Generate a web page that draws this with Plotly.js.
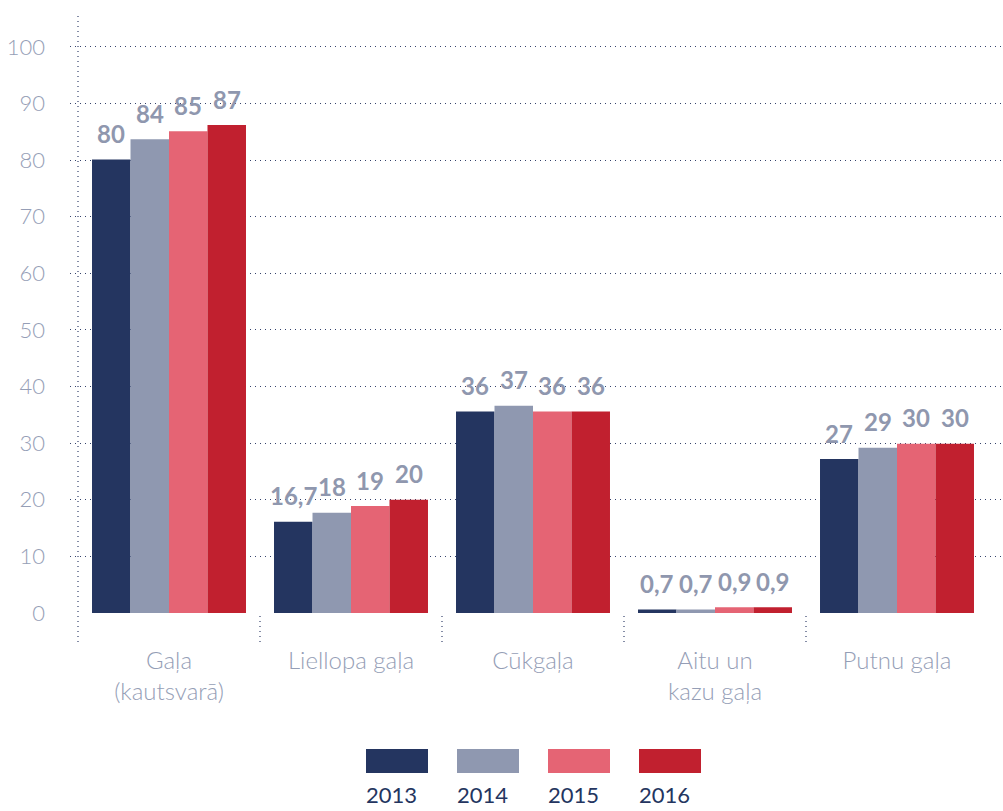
<!DOCTYPE html>
<html>
<head>
<meta charset="utf-8">
<script src="https://cdn.plot.ly/plotly-3.0.1.min.js"></script>
<style>
  html, body { margin: 0; padding: 0; background: #fff; }
  #chart { width: 1003px; height: 811px; }
</style>
</head>
<body>
<div id="chart"></div>
<script>
// dati
var categories = ["Gaļa<br>(kautsvarā)", "Liellopa gaļa", "Cūkgaļa", "Aitu un<br>kazu gaļa", "Putnu gaļa"];
var years = ["2013", "2014", "2015", "2016"];
var v2013 = [80.1, 16.1, 35.6, 0.6, 27.2];
var v2014 = [83.7, 17.7, 36.6, 0.6, 29.2];
var v2015 = [85.1, 18.9, 35.6, 1.0, 29.9];
var v2016 = [86.2, 20.0, 35.6, 1.0, 29.9];
var t2013 = ["80", "16,7", "36", "0,7", "27"];
var t2014 = ["84", "18", "37", "0,7", "29"];
var t2015 = ["85", "19", "36", "0,9", "30"];
var t2016 = ["87", "20", "36", "0,9", "30"];
var colors = ["#243560", "#8f98b0", "#e56474", "#c1202f"];

(function () {
  var W = 1003, H = 811;
  var ML = 70, MR = 0, MT = 13, MB = 198;
  var PW = W - ML - MR, PH = H - MT - MB;
  var BARGAP = 0.154;
  var FONT = "Lato, 'Open Sans', sans-serif";
  var TICK = "#959eb6", LABEL = "#8f97ae", GRID = "#34426c";

  var values = [v2013, v2014, v2015, v2016];
  var texts = [t2013, t2014, t2015, t2016];
  var idx = categories.map(function (c, i) { return i; });

  function pxX(px) { return (px - ML) / PW; }
  function pxY(py) { return (MT + PH - py) / PH; }

  var traces = years.map(function (y, j) {
    return {
      type: "bar", name: y, x: idx, y: values[j],
      marker: { color: colors[j], line: { width: 0 } },
      hoverinfo: "skip", showlegend: false
    };
  });

  var annotations = [], shapes = [];
  var bw = (1 - BARGAP) / years.length;
  years.forEach(function (y, j) {
    idx.forEach(function (i) {
      annotations.push({
        x: i + (j - (years.length - 1) / 2) * bw, y: values[j][i], xref: "x", yref: "y",
        text: texts[j][i], showarrow: false, yanchor: "middle", yshift: 26,
        font: { family: FONT, size: 24, color: LABEL, weight: 700 }
      });
    });
  });

  // kategoriju atdalītāji (punktēti)
  for (var k = 0; k < categories.length; k++) {
    shapes.push({
      type: "line", xref: "x", yref: "paper", x0: k - 0.5, x1: k - 0.5,
      y0: pxY(642), y1: k === 0 ? 1 : 0,
      line: { color: GRID, width: 1.2, dash: "1px,4px" }
    });
  }

  // leģenda: kvadrāts virs gada
  years.forEach(function (y, j) {
    var x0 = 366 + j * 91;
    shapes.push({
      type: "rect", xref: "paper", yref: "paper",
      x0: pxX(x0), x1: pxX(x0 + 62), y0: pxY(773), y1: pxY(749),
      fillcolor: colors[j], line: { width: 0 }
    });
    annotations.push({
      xref: "paper", yref: "paper", x: pxX(x0 - 2), y: pxY(810),
      xanchor: "left", yanchor: "bottom", showarrow: false, text: y,
      font: { family: FONT, size: 22, color: "#243560" }
    });
  });

  var layout = {
    width: W, height: H,
    margin: { l: ML, r: MR, t: MT, b: MB },
    paper_bgcolor: "#fff", plot_bgcolor: "#fff",
    barmode: "group", bargap: BARGAP, bargroupgap: 0,
    showlegend: false,
    xaxis: {
      type: "linear", range: [-0.5 - 8 / 182, 4.5 + 15 / 182],
      tickvals: idx, ticktext: categories, showgrid: false, zeroline: false,
      showline: false, ticks: "", ticklabelstandoff: 31,
      tickfont: { family: FONT, size: 24, color: TICK, weight: 300 }
    },
    yaxis: {
      range: [0, 106], tickvals: [0, 10, 20, 30, 40, 50, 60, 70, 80, 90, 100],
      showgrid: true, gridcolor: GRID, gridwidth: 1, griddash: "1px,4px",
      zeroline: false, showline: false, ticks: "", ticklabelstandoff: 24,
      tickfont: { family: FONT, size: 22, color: TICK, weight: 300 }
    },
    shapes: shapes,
    annotations: annotations
  };

  Plotly.newPlot("chart", traces, layout, { displayModeBar: false, staticPlot: true });
})();
</script>
</body>
</html>
